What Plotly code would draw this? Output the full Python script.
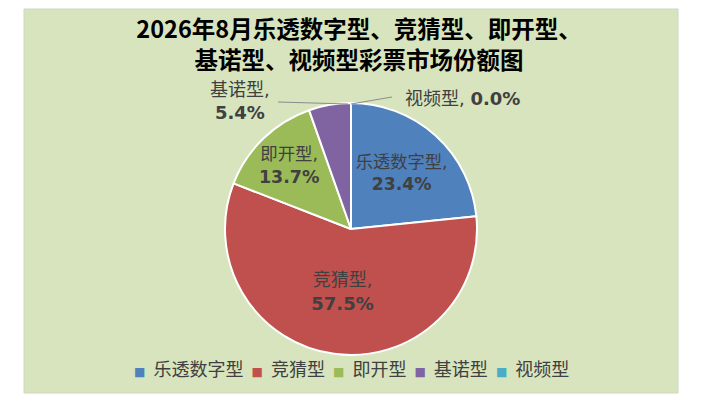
import plotly.graph_objects as go

# chart data
categories = ["乐透数字型", "竞猜型", "即开型", "基诺型", "视频型"]
shares = [23.4, 57.5, 13.7, 5.4, 0.0]
colors = ["#4F81BD", "#C0504D", "#9BBB59", "#8064A2", "#4BACC6"]
# slices whose label sits outside the pie with a leader line
outside_labels = ["基诺型", "视频型"]

title_text = "2026年8月乐透数字型、竞猜型、即开型、<br>基诺型、视频型彩票市场份额图"

W, H = 708, 403
OFF = 8  # the page body adds an 8px margin, compensate for it
label_font = "DejaVu Sans, Noto Sans CJK SC, sans-serif"
cjk_font = "Noto Sans CJK SC, sans-serif"
text_grey = "#404040"


def px(x):
    # screenshot pixel -> paper x
    return (x - OFF) / W


def py(y):
    # screenshot pixel (from top) -> paper y
    return 1 - (y - OFF) / H


# inside labels only for the big slices
templates = [
    "" if c in outside_labels else "%{label},<br><b>%{value:.1f}%</b>"
    for c in categories
]

fig = go.Figure()
fig.add_pie(
    labels=categories,
    values=shares,
    marker=dict(colors=colors, line=dict(color="white", width=2)),
    sort=False,
    direction="clockwise",
    rotation=0,
    texttemplate=templates,
    textposition="inside",
    insidetextorientation="horizontal",
    insidetextfont=dict(family=label_font, size=18, color=text_grey),
    hoverinfo="label+percent",
    domain=dict(x=[px(225), px(477)], y=[py(355), py(103)]),
)

# outside labels with leader lines
for cat, val in zip(categories, shares):
    if cat == "基诺型":
        fig.add_annotation(
            x=px(240), y=py(101), xref="paper", yref="paper",
            xanchor="center", yanchor="middle",
            text=f"{cat},<br><b>{val:.1f}%</b>", showarrow=False,
            font=dict(family=label_font, size=18, color=text_grey),
        )
        fig.add_shape(
            type="line", xref="paper", yref="paper",
            x0=px(278), y0=py(102), x1=px(348), y1=py(104),
            line=dict(color="#8C8C8C", width=1),
        )
    elif cat == "视频型":
        fig.add_annotation(
            x=px(403), y=py(98), xref="paper", yref="paper",
            xanchor="left", yanchor="middle",
            text=f"{cat}, <b>{val:.1f}%</b>", showarrow=False,
            font=dict(family=label_font, size=18, color=text_grey),
        )
        fig.add_shape(
            type="line", xref="paper", yref="paper",
            x0=px(351), y0=py(104), x1=px(392), y1=py(97),
            line=dict(color="#8C8C8C", width=1),
        )

# legend drawn as one line of text so the entries sit as close as in the original
gap = "\u00a0 "
legend_text = gap.join(
    f'<span style="color:{c};font-size:12px;font-family:DejaVu Sans">■</span>{gap}{cat}'
    for cat, c in zip(categories, colors)
)
fig.add_annotation(
    x=px(351), y=py(368), xref="paper", yref="paper",
    xanchor="center", yanchor="middle",
    text=legend_text, showarrow=False,
    font=dict(family=cjk_font, size=18, color=text_grey),
)

# green chart area
fig.add_shape(
    type="rect", xref="paper", yref="paper", layer="below",
    x0=px(24), x1=px(678), y0=py(393), y1=py(9),
    fillcolor="#D7E4BD", line=dict(color="#D0D8C0", width=1),
)

fig.update_layout(
    width=W,
    height=H,
    margin=dict(l=0, r=0, t=0, b=0),
    paper_bgcolor="white",
    title=dict(
        text=title_text,
        x=px(359), xanchor="center",
        y=py(38), yanchor="top",
        font=dict(family=cjk_font, size=23.5, color="black", weight="bold"),
    ),
    showlegend=False,
)

fig.write_html("out.html")
